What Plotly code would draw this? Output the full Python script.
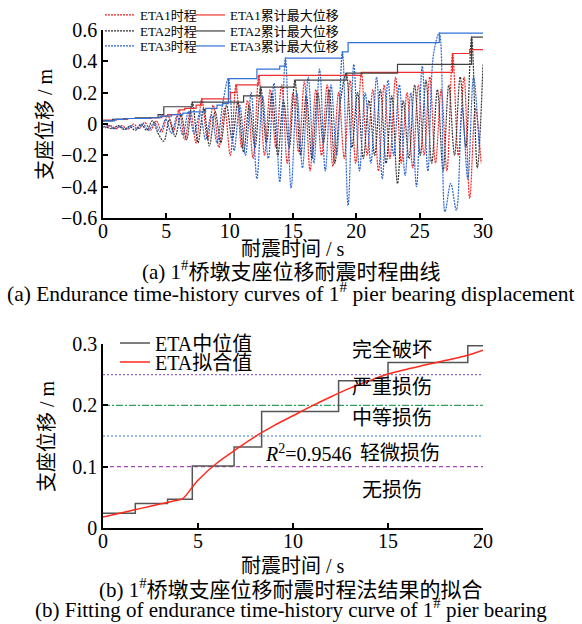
import numpy as np
import plotly.graph_objects as go

# ---------------- data: panel (a) ----------------
dt = 0.45  # spacing of read-off extrema (s)
t_start = {"ETA1": 0.15, "ETA2": 0.30, "ETA3": 0.0}

eta1_disp = [-0.025, -0.01, -0.03, -0.01, -0.035, 0.0, -0.03, 0.01, -0.04, 0.02,
             -0.05, 0.06, -0.05, 0.09, -0.10, 0.08, -0.12, 0.16, -0.10, 0.12,
             -0.15, 0.10, -0.20, 0.25, -0.15, 0.15, -0.22, 0.31, -0.20, 0.22,
             -0.15, 0.25, -0.25, 0.20, -0.18, 0.27, -0.30, 0.22, -0.20, 0.25,
             -0.27, 0.20, -0.22, 0.28, -0.25, 0.33, -0.20, 0.22, -0.30, 0.25,
             -0.22, 0.30, -0.25, 0.20, -0.28, 0.25, -0.20, 0.30, -0.25, 0.22,
             -0.30, 0.45, -0.20, 0.30, -0.475, 0.10, -0.25]

eta2_disp = [-0.02, -0.03, -0.01, -0.035, -0.015, -0.04, 0.0, -0.04, 0.02, -0.06,
             -0.11, 0.03, -0.08, 0.06, -0.10, 0.14, -0.12, 0.10, -0.14, 0.08,
             -0.12, 0.12, -0.10, 0.14, -0.18, 0.12, -0.15, 0.235, -0.12, 0.20,
             -0.20, 0.15, -0.15, 0.28, -0.20, 0.18, -0.22, 0.20, -0.12, 0.22,
             -0.25, 0.15, 0.325, -0.15, 0.20, -0.22, 0.15, -0.20, 0.22, -0.25,
             0.18, -0.38, 0.15, -0.22, 0.25, -0.20, 0.28, -0.25, 0.22, -0.30,
             0.25, -0.20, 0.30, -0.15, 0.555, -0.28, 0.38]

eta3_disp = [-0.02, -0.01, -0.03, -0.015, -0.035, -0.01, -0.03, 0.0, -0.04, 0.01,
             -0.05, 0.03, -0.06, 0.05, -0.07, 0.077, -0.06, 0.07, -0.10, 0.06,
             -0.12, 0.13, 0.29, -0.17, 0.12, -0.20, 0.20, -0.35, 0.18, -0.22,
             0.26, -0.37, 0.42, -0.41, 0.20, -0.28, 0.30, -0.25, 0.35, -0.30,
             0.25, -0.20, 0.46, -0.52, 0.38, -0.30, 0.20, -0.25, 0.30, -0.35,
             0.28, -0.20, 0.25, -0.33, 0.20, -0.40, 0.37, -0.30, 0.45, 0.58,
             -0.56, -0.38, -0.55, 0.10, -0.35, 0.30, -0.15]

series_names = ["ETA1", "ETA2", "ETA3"]
series_disp = {"ETA1": eta1_disp, "ETA2": eta2_disp, "ETA3": eta3_disp}
hist_colors = {"ETA1": "#ee2222", "ETA2": "#333333", "ETA3": "#2a64d0"}
cum_colors = {"ETA1": "#ee3030", "ETA2": "#404040", "ETA3": "#3270d6"}

# ---------------- data: panel (b) ----------------
median_t = [0, 1.7, 3.4, 4.7, 6.9, 8.35, 12.4, 15.0, 19.2, 20]
median_v = [0.024, 0.040, 0.047, 0.101, 0.132, 0.190, 0.240, 0.270, 0.297, 0.297]
fit_t = [0, 1, 2, 3, 4, 4.2, 5, 6, 7, 8, 9, 10, 11, 12, 13, 14, 15, 16, 17, 18, 19, 20]
fit_v = [0.018, 0.025, 0.032, 0.039, 0.046, 0.048, 0.078, 0.106, 0.128, 0.149,
         0.167, 0.183, 0.199, 0.214, 0.228, 0.240, 0.251, 0.259, 0.266, 0.273,
         0.280, 0.290]
limit_v = [0.25, 0.20, 0.15, 0.10]
limit_colors = ["#9467d0", "#2ca25f", "#3b78e0", "#a745b8"]
limit_dash = ["2px,2px", "7px,2px,2px,2px", "2px,2px", "4px,3px"]
state_labels = ["完全破坏", "严重损伤", "中等损伤", "轻微损伤", "无损伤"]
state_x = [15.2, 15.2, 15.2, 13.4, 15.2]
state_y = [0.290, 0.230, 0.179, 0.122, 0.062]
r2_text = "<i>R</i><sup>2</sup>=0.9546"

W, H = 582, 624
SERIF = "Liberation Serif, Times New Roman, Noto Sans CJK SC, serif"

def px_x(p):
    return p / W

def px_y(p):
    return 1 - p / H

fig = go.Figure()

row_legend_id = {"ETA1": ("legend", "legend2"), "ETA2": ("legend3", "legend4"), "ETA3": ("legend5", "legend6")}

# time histories
for name in series_names:
    v = np.array(series_disp[name])
    t = t_start[name] + dt * np.arange(len(v))
    fig.add_trace(go.Scatter(
        x=t, y=v, mode="lines", name=name + "时程",
        line=dict(color=hist_colors[name], width=1.2, dash="2px,1px", shape="spline"),
        xaxis="x", yaxis="y", legend=row_legend_id[name][0],
    ))
# cumulative max of |displacement|
for name in series_names:
    v = np.array(series_disp[name])
    t = t_start[name] + dt * np.arange(len(v))
    cm = np.maximum.accumulate(np.abs(v))
    xx = np.concatenate([[0.0], t, [30.0]])
    yy = np.concatenate([[cm[0]], cm, [cm[-1]]])
    fig.add_trace(go.Scatter(
        x=xx, y=yy, mode="lines", name=name + "累计最大位移",
        line=dict(color=cum_colors[name], width=1.2, shape="hv"),
        xaxis="x", yaxis="y", legend=row_legend_id[name][1],
    ))

# panel (b)
for v, c, d in zip(limit_v, limit_colors, limit_dash):
    fig.add_trace(go.Scatter(x=[0, 20], y=[v, v], mode="lines", showlegend=False,
                             line=dict(color=c, width=1.2, dash=d), xaxis="x2", yaxis="y2"))
fig.add_trace(go.Scatter(x=median_t, y=median_v, mode="lines", name="ETA中位值",
                         line=dict(color="#555555", width=1.5, shape="hv"),
                         xaxis="x2", yaxis="y2", legend="legend7"))
fig.add_trace(go.Scatter(x=fit_t, y=fit_v, mode="lines", name="ETA拟合值",
                         line=dict(color="#ff2a1a", width=1.5, shape="spline"),
                         xaxis="x2", yaxis="y2", legend="legend8"))

axis_common = dict(showline=True, linecolor="black", linewidth=1.5, ticks="inside",
                   ticklen=5, tickwidth=1.5, tickcolor="black", showgrid=False,
                   zeroline=False, mirror=False,
                   tickfont=dict(family=SERIF, size=20, color="black"))

xdom = [px_x(103), px_x(483)]
fig.update_layout(
    width=W, height=H, margin=dict(l=0, r=0, t=0, b=0, autoexpand=False),
    paper_bgcolor="white", plot_bgcolor="white",
    font=dict(family=SERIF, color="black"),
    xaxis=dict(domain=xdom, range=[0, 30], tickvals=[0, 5, 10, 15, 20, 25, 30], anchor="y",
               ticklabelstandoff=-6, **axis_common),
    yaxis=dict(domain=[px_y(218), px_y(30)], range=[-0.6, 0.6],
               tickvals=[-0.6, -0.4, -0.2, 0, 0.2, 0.4, 0.6], anchor="x", **axis_common),
    xaxis2=dict(domain=xdom, range=[0, 20], tickvals=[0, 5, 10, 15, 20], anchor="y2",
                ticklabelstandoff=-6, **axis_common),
    yaxis2=dict(domain=[px_y(528), px_y(344)], range=[0, 0.3],
                tickvals=[0, 0.1, 0.2, 0.3], anchor="x2", **axis_common),
)

def one_legend(xp, yp, size):
    return dict(orientation="v", x=px_x(xp), y=px_y(yp), xanchor="left", yanchor="middle",
                bgcolor="rgba(0,0,0,0)", font=dict(family=SERIF, size=size, color="black"),
                itemwidth=30, tracegroupgap=0)

fig.update_layout(
    legend=one_legend(100, 15, 13),
    legend2=one_legend(190, 15, 13),
    legend3=one_legend(100, 31, 13),
    legend4=one_legend(190, 31, 13),
    legend5=one_legend(100, 46, 13),
    legend6=one_legend(190, 46, 13),
    legend7=one_legend(115, 343, 20),
    legend8=one_legend(115, 362, 20),
)

ann = []
def add_text(text, xp, yp, size=20, angle=0):
    ann.append(dict(text=text, x=px_x(xp), y=px_y(yp), xref="paper", yref="paper",
                    xanchor="center", yanchor="middle", showarrow=False, textangle=angle,
                    font=dict(family=SERIF, size=size, color="black")))

add_text("耐震时间 / s", 293, 249)
add_text("(a) 1<sup>#</sup>桥墩支座位移耐震时程曲线", 291, 270, size=21)
add_text("(a) Endurance time-history curves of 1<sup>#</sup> pier bearing displacement", 291, 292, size=21.5)
add_text("支座位移 / m", 45, 124, angle=-90)
add_text("耐震时间 / s", 293, 566)
add_text("(b) 1<sup>#</sup>桥墩支座位移耐震时程法结果的拟合", 291, 588, size=21)
add_text("(b) Fitting of endurance time-history curve of 1<sup>#</sup> pier bearing", 291, 608, size=21)
add_text("支座位移 / m", 47, 436, angle=-90)

for lab, xv, yv in zip(state_labels, state_x, state_y):
    ann.append(dict(text=lab, x=xv, y=yv, xref="x2", yref="y2",
                    xanchor="left" if lab == "轻微损伤" else "center", yanchor="middle",
                    showarrow=False, font=dict(family=SERIF, size=20, color="black")))
ann.append(dict(text=r2_text, x=8.4, y=0.122, xref="x2", yref="y2", xanchor="left",
                yanchor="middle", showarrow=False, font=dict(family=SERIF, size=20, color="black")))

fig.update_layout(annotations=ann)
fig.write_html("out.html")
